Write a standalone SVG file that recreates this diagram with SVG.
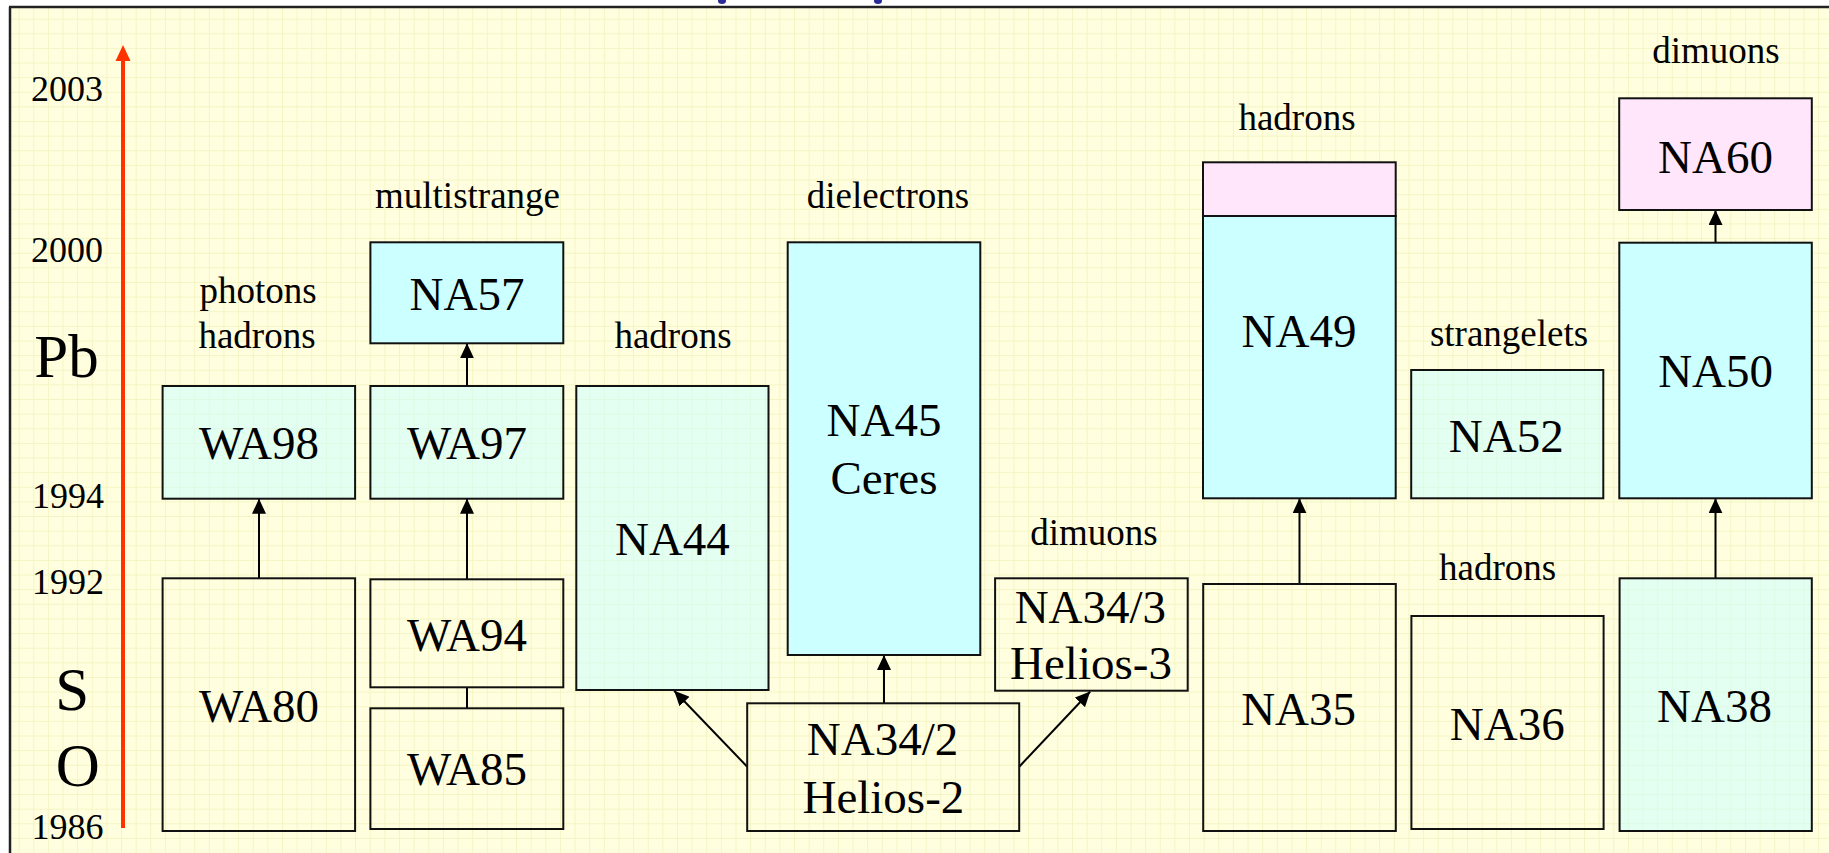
<svg xmlns="http://www.w3.org/2000/svg" width="1829" height="853" viewBox="0 0 1829 853">
<style>
.box{stroke:#111;stroke-width:2}
.solid{fill:#ccffff}
.light{fill:#ccffff;fill-opacity:0.55}
.plain{fill:none}
.pink{fill:#ffe6fa}
.t{font-family:"Liberation Serif",serif;fill:#000;text-anchor:middle}
.lbl{font-size:47px}
.cat{font-size:37px}
.yr{font-size:36px}
.big{font-size:61px}
.conn{stroke:#000;stroke-width:2;fill:none}
</style>
<defs>
<pattern id="grid" width="14.63" height="14.63" patternUnits="userSpaceOnUse" x="4" y="4">
<path d="M0,0.5 H14.63 M0.5,0 V14.63" stroke="#f4f4c4" stroke-width="1" fill="none"/>
</pattern>
<marker id="ah" viewBox="0 0 15 14" markerWidth="15" markerHeight="14" refX="15" refY="7" orient="auto" markerUnits="userSpaceOnUse">
<path d="M0,0 L15,7 L0,14 z" fill="#000"/>
</marker>
</defs>
<rect x="0" y="0" width="1829" height="853" fill="#ffffff"/>
<rect x="10" y="7" width="1819" height="846" fill="#ffffdf"/>
<rect x="10" y="7" width="1819" height="846" fill="url(#grid)"/>
<line x1="9" y1="7" x2="1829" y2="7" stroke="#222" stroke-width="2.5"/>
<line x1="10" y1="7" x2="10" y2="853" stroke="#222" stroke-width="2.5"/>
<ellipse cx="722" cy="1" rx="4" ry="3" fill="#2b2b9a"/>
<ellipse cx="878" cy="1" rx="4" ry="3" fill="#2b2b9a"/>

<g id="axis">
<line x1="123" y1="828" x2="123" y2="58" stroke="#ff3300" stroke-width="4"/>
<polygon points="123,45 115.5,61 130.5,61" fill="#ff3300"/>
<text class="t yr" x="67" y="101">2003</text>
<text class="t yr" x="67" y="262">2000</text>
<text class="t big" x="66.5" y="377">Pb</text>
<text class="t yr" x="68" y="508">1994</text>
<text class="t yr" x="68" y="594">1992</text>
<text class="t big" x="72.3" y="710">S</text>
<text class="t big" x="77.7" y="786">O</text>
<text class="t yr" x="67.5" y="839">1986</text>
</g>

<g id="labels">
<text class="t cat" x="258" y="303">photons</text>
<text class="t cat" x="257" y="348">hadrons</text>
<text class="t cat" x="467.5" y="208">multistrange</text>
<text class="t cat" x="673" y="348">hadrons</text>
<text class="t cat" x="888" y="208">dielectrons</text>
<text class="t cat" x="1094" y="545">dimuons</text>
<text class="t cat" x="1297" y="130">hadrons</text>
<text class="t cat" x="1509" y="346">strangelets</text>
<text class="t cat" x="1497.7" y="580">hadrons</text>
<text class="t cat" x="1716" y="63">dimuons</text>
</g>

<g id="connectors">
<line class="conn" x1="259" y1="578.3" x2="259" y2="498.7" marker-end="url(#ah)"/>
<line class="conn" x1="467" y1="579.3" x2="467" y2="498.7" marker-end="url(#ah)"/>
<line class="conn" x1="467" y1="687.3" x2="467" y2="708.3"/>
<line class="conn" x1="467" y1="386" x2="467" y2="343.3" marker-end="url(#ah)"/>
<line class="conn" x1="747.2" y1="766.7" x2="674.2" y2="690.7" marker-end="url(#ah)"/>
<line class="conn" x1="884" y1="703.3" x2="884" y2="655" marker-end="url(#ah)"/>
<line class="conn" x1="1019.2" y1="766.7" x2="1090.2" y2="691.5" marker-end="url(#ah)"/>
<line class="conn" x1="1299.5" y1="584" x2="1299.5" y2="498.3" marker-end="url(#ah)"/>
<line class="conn" x1="1715.5" y1="578.3" x2="1715.5" y2="498.3" marker-end="url(#ah)"/>
<line class="conn" x1="1715.5" y1="242.7" x2="1715.5" y2="210" marker-end="url(#ah)"/>
</g>

<g id="WA80"><rect class="box plain" x="162.6" y="578.3" width="192.5" height="252.7"/><text class="t lbl" x="259" y="721.7">WA80</text></g>
<g id="WA98"><rect class="box light" x="162.6" y="386" width="192.5" height="112.7"/><text class="t lbl" x="259" y="459.3">WA98</text></g>
<g id="WA85"><rect class="box plain" x="370.4" y="708.3" width="192.9" height="120.7"/><text class="t lbl" x="467" y="785">WA85</text></g>
<g id="WA94"><rect class="box plain" x="370.4" y="579.3" width="192.9" height="108"/><text class="t lbl" x="467" y="650.7">WA94</text></g>
<g id="WA97"><rect class="box light" x="370.4" y="386" width="192.9" height="112.7"/><text class="t lbl" x="467" y="459.3">WA97</text></g>
<g id="NA57"><rect class="box solid" x="370.4" y="242.3" width="192.9" height="101"/><text class="t lbl" x="467" y="309.5">NA57</text></g>
<g id="NA44"><rect class="box light" x="576.3" y="386" width="192.2" height="304"/><text class="t lbl" x="672.4" y="555">NA44</text></g>
<g id="NA45"><rect class="box solid" x="787.7" y="242.3" width="192.6" height="412.7"/><text class="t lbl" x="884" y="436">NA45</text><text class="t lbl" x="884" y="494">Ceres</text></g>
<g id="NA34-2"><rect class="box plain" x="747.2" y="703.3" width="272" height="127.7"/><text class="t lbl" x="882.5" y="755">NA34/2</text><text class="t lbl" x="883.4" y="813.3">Helios-2</text></g>
<g id="NA34-3"><rect class="box plain" x="995.1" y="578.3" width="192.6" height="112.4"/><text class="t lbl" x="1090.4" y="622.7">NA34/3</text><text class="t lbl" x="1091" y="679.3">Helios-3</text></g>
<g id="NA35"><rect class="box plain" x="1203.2" y="584" width="192.6" height="247"/><text class="t lbl" x="1298.6" y="725">NA35</text></g>
<g id="NA49"><rect class="box pink" x="1203" y="162.3" width="192.7" height="53.7"/><rect class="box solid" x="1203" y="216" width="192.7" height="282.3"/><text class="t lbl" x="1299" y="347.3">NA49</text></g>
<g id="NA52"><rect class="box light" x="1411.2" y="370" width="192.1" height="128.3"/><text class="t lbl" x="1506.3" y="451.7">NA52</text></g>
<g id="NA36"><rect class="box plain" x="1411.4" y="616" width="192.2" height="213"/><text class="t lbl" x="1507.3" y="740">NA36</text></g>
<g id="NA38"><rect class="box light" x="1619.6" y="578.3" width="192.2" height="252.7"/><text class="t lbl" x="1714.5" y="721.7">NA38</text></g>
<g id="NA50"><rect class="box solid" x="1619.3" y="242.7" width="192.5" height="255.6"/><text class="t lbl" x="1715.6" y="387.3">NA50</text></g>
<g id="NA60"><rect class="box pink" x="1619.2" y="98.3" width="192.6" height="111.7"/><text class="t lbl" x="1715.5" y="172.7">NA60</text></g>
</svg>
